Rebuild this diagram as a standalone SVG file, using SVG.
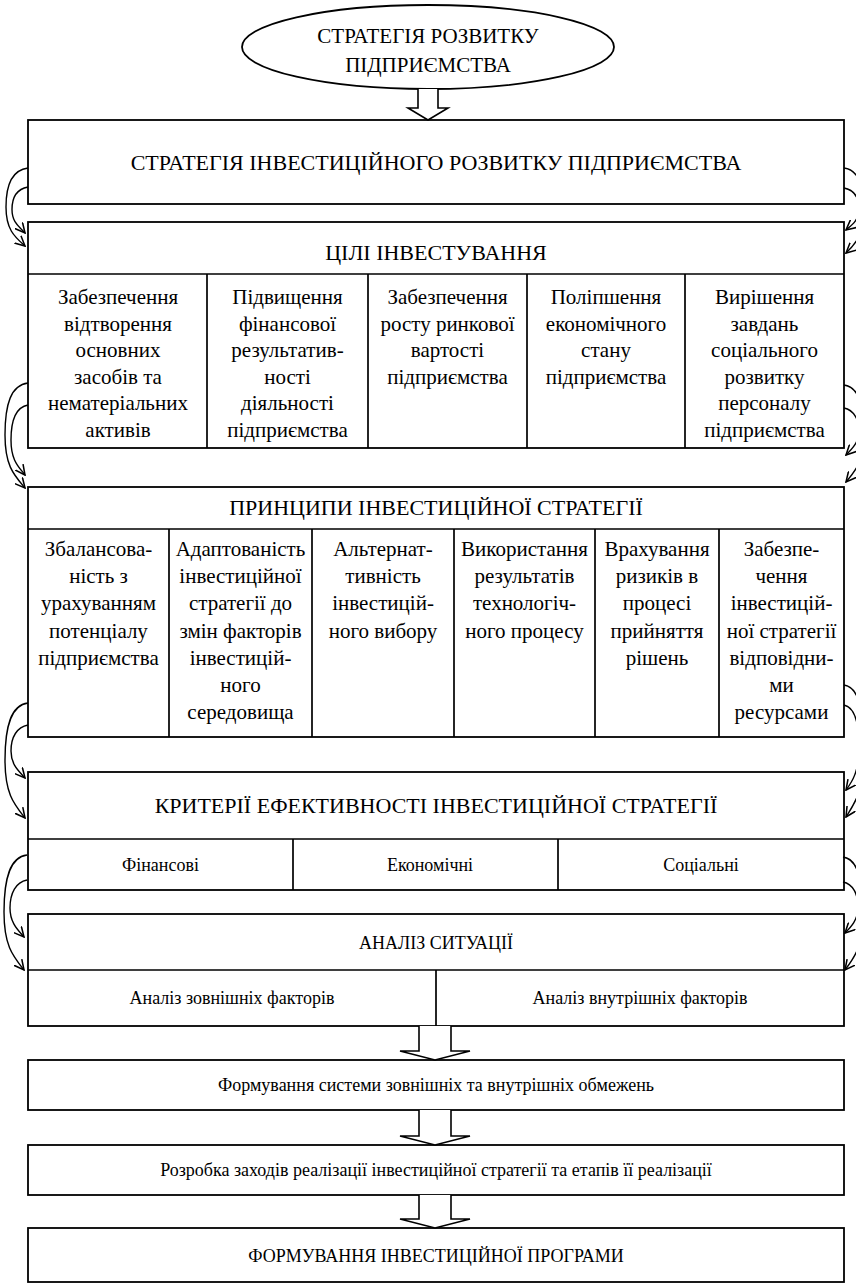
<svg xmlns="http://www.w3.org/2000/svg" width="856" height="1284" viewBox="0 0 856 1284">
<defs>
<style>
.box{fill:#fff;stroke:#000;stroke-width:1.8}
.ln{stroke:#000;stroke-width:1.7;fill:none}
text{font-family:'Liberation Serif','Times New Roman',serif;fill:#000;text-anchor:middle}
.h{font-size:22px}
.c{font-size:21px}
.s{font-size:18px}
.e{font-size:21px}
.cv{fill:none;stroke:#000;stroke-width:1.4;marker-end:url(#ah)}
.ba{fill:#fff;stroke:#000;stroke-width:1.6;stroke-linejoin:miter}
</style>
<marker id="ah" viewBox="0 0 10 10" refX="9" refY="5" markerWidth="11" markerHeight="11" markerUnits="userSpaceOnUse" orient="auto">
<path d="M0,0.5 L9,5 L0,9.5" fill="none" stroke="#000" stroke-width="1.4"/>
</marker>
</defs>
<rect width="856" height="1284" fill="#fff"/>

<g id="n-strategy">
<ellipse cx="428" cy="47" rx="186" ry="42" class="box"/>
<text class="e" x="428" y="43">СТРАТЕГІЯ РОЗВИТКУ</text>
<text class="e" x="428" y="72">ПІДПРИЄМСТВА</text>
</g>

<g id="n-invest-strategy">
<rect x="28" y="120" width="816" height="84" class="box"/>
<text class="h" x="436" y="170">СТРАТЕГІЯ ІНВЕСТИЦІЙНОГО РОЗВИТКУ ПІДПРИЄМСТВА</text>
</g>

<g id="n-goals">
<rect x="28" y="222" width="816" height="226" class="box"/>
<path class="ln" d="M28,274H844M207,274V448M368,274V448M527,274V448M685,274V448"/>
<text class="h" x="436" y="260">ЦІЛІ ІНВЕСТУВАННЯ</text>
<g class="c">
<text x="118" y="304">Забезпечення</text>
<text x="118" y="331">відтворення</text>
<text x="118" y="357">основних</text>
<text x="118" y="384">засобів та</text>
<text x="118" y="410">нематеріальних</text>
<text x="118" y="437">активів</text>
<text x="287.5" y="304">Підвищення</text>
<text x="287.5" y="331">фінансової</text>
<text x="287.5" y="357">результатив-</text>
<text x="287.5" y="384">ності</text>
<text x="287.5" y="410">діяльності</text>
<text x="287.5" y="437">підприємства</text>
<text x="447.5" y="304">Забезпечення</text>
<text x="447.5" y="331">росту ринкової</text>
<text x="447.5" y="357">вартості</text>
<text x="447.5" y="384">підприємства</text>
<text x="606" y="304">Поліпшення</text>
<text x="606" y="331">економічного</text>
<text x="606" y="357">стану</text>
<text x="606" y="384">підприємства</text>
<text x="764.5" y="304">Вирішення</text>
<text x="764.5" y="331">завдань</text>
<text x="764.5" y="357">соціального</text>
<text x="764.5" y="384">розвитку</text>
<text x="764.5" y="410">персоналу</text>
<text x="764.5" y="437">підприємства</text>
</g>
</g>

<g id="n-principles">
<rect x="28" y="487" width="816" height="250" class="box"/>
<path class="ln" d="M28,529H844M169,529V737M312,529V737M454,529V737M595,529V737M719,529V737"/>
<text class="h" x="436" y="515">ПРИНЦИПИ ІНВЕСТИЦІЙНОЇ СТРАТЕГІЇ</text>
<g class="c">
<text x="98.5" y="556">Збалансова-</text>
<text x="98.5" y="583">ність з</text>
<text x="98.5" y="610">урахуванням</text>
<text x="98.5" y="638">потенціалу</text>
<text x="98.5" y="665">підприємства</text>
<text x="240.5" y="556">Адаптованість</text>
<text x="240.5" y="583">інвестиційної</text>
<text x="240.5" y="610">стратегії до</text>
<text x="240.5" y="638">змін факторів</text>
<text x="240.5" y="665">інвестицій-</text>
<text x="240.5" y="692">ного</text>
<text x="240.5" y="719">середовища</text>
<text x="383" y="556">Альтернат-</text>
<text x="383" y="583">тивність</text>
<text x="383" y="610">інвестицій-</text>
<text x="383" y="638">ного вибору</text>
<text x="524.5" y="556">Використання</text>
<text x="524.5" y="583">результатів</text>
<text x="524.5" y="610">технологіч-</text>
<text x="524.5" y="638">ного процесу</text>
<text x="657" y="556">Врахування</text>
<text x="657" y="583">ризиків в</text>
<text x="657" y="610">процесі</text>
<text x="657" y="638">прийняття</text>
<text x="657" y="665">рішень</text>
<text x="781.5" y="556">Забезпе-</text>
<text x="781.5" y="583">чення</text>
<text x="781.5" y="610">інвестицій-</text>
<text x="781.5" y="638">ної стратегії</text>
<text x="781.5" y="665">відповідни-</text>
<text x="781.5" y="692">ми</text>
<text x="781.5" y="719">ресурсами</text>
</g>
</g>

<g id="n-criteria">
<rect x="28" y="772" width="816" height="118" class="box"/>
<path class="ln" d="M28,839H844M293,839V890M558,839V890"/>
<text class="h" x="436" y="813">КРИТЕРІЇ ЕФЕКТИВНОСТІ ІНВЕСТИЦІЙНОЇ СТРАТЕГІЇ</text>
<text class="s" x="160.5" y="871">Фінансові</text>
<text class="s" x="430" y="871">Економічні</text>
<text class="s" x="701" y="871">Соціальні</text>
</g>

<g id="n-analysis">
<rect x="28" y="914" width="816" height="112" class="box"/>
<path class="ln" d="M28,970H844M436,970V1026"/>
<text class="s" x="436" y="949">АНАЛІЗ СИТУАЦІЇ</text>
<text class="s" x="232" y="1004">Аналіз зовнішніх факторів</text>
<text class="s" x="640" y="1004">Аналіз внутрішніх факторів</text>
</g>

<g id="n-constraints">
<rect x="28" y="1060" width="816" height="50" class="box"/>
<text class="s" x="436" y="1091">Формування системи зовнішніх та внутрішніх обмежень</text>
</g>

<g id="n-measures">
<rect x="28" y="1145" width="816" height="50" class="box"/>
<text class="s" x="436" y="1176">Розробка заходів реалізації інвестиційної стратегії та етапів її реалізації</text>
</g>

<g id="n-program">
<rect x="28" y="1228" width="816" height="54" class="box"/>
<text class="s" x="436" y="1262">ФОРМУВАННЯ ІНВЕСТИЦІЙНОЇ ПРОГРАМИ</text>
</g>

<g id="connectors">
<path class="ba" d="M418,89 L418,108 L408,108 L428,120 L448,108 L438,108 L438,89"/>
<path class="ba" d="M419,1026 L419,1051 L400,1051 L435,1060 L470,1051 L451,1051 L451,1026"/>
<path class="ba" d="M419,1110 L419,1136 L400,1136 L435,1145 L470,1136 L451,1136 L451,1110"/>
<path class="ba" d="M419,1195 L419,1219 L400,1219 L435,1228 L470,1219 L451,1219 L451,1195"/>

<path class="cv" d="M28,168 C12,170 6,184 6,207 S15,237 25,246"/>
<path class="cv" d="M28,187 C17,189 12,196 12,209.5 S20,227 25,233"/>
<path class="cv" d="M28,383 C11,385 5,404 5,435 S14,475 25,488"/>
<path class="cv" d="M28,405 C17,407 11,419 11,440 S19,467 25,475"/>
<path class="cv" d="M28,703 C11,705 5,726 5,760 S14,804 25,818"/>
<path class="cv" d="M28,725 C17,727 11,737 11,751 S19,771 25,778"/>
<path class="cv" d="M27,855 C10,857 4,878 4,912 S13,956 24,970"/>
<path class="cv" d="M27,880 C16,882 10,893 10,908 S18,930 24,937"/>

<path class="cv" d="M844,168 C859,170 864,187 864,210 S856,244 846,253"/>
<path class="cv" d="M844,188 C854,190 859,198 859,209 S852,225 846,230"/>
<path class="cv" d="M844,385 C859,387 864,405 864,433 S856,470 846,482"/>
<path class="cv" d="M844,408 C854,410 859,420 859,431 S852,449 846,455"/>
<path class="cv" d="M844,685 C859,687 864,711 864,751 S856,801 846,817"/>
<path class="cv" d="M844,705 C854,707 859,722 859,747 S852,782 846,790"/>
<path class="cv" d="M843,857 C858,859 863,880 863,913 S855,957 845,970"/>
<path class="cv" d="M843,882 C853,884 858,894 858,907 S851,927 845,933"/>
</g>
</svg>
